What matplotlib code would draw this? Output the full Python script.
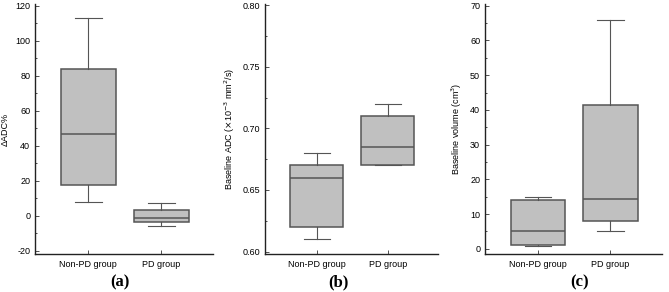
import matplotlib.pyplot as plt
from matplotlib.ticker import MultipleLocator

plt.rcParams['font.family'] = ['Liberation Sans', 'DejaVu Sans']

groups = ['Non-PD group', 'PD group']

# whisker low, Q1, median, Q3, whisker high
adc_pct = [[7.5, 17.5, 46.5, 84.0, 113.0],
           [-6.0, -3.5, -1.5, 3.0, 7.0]]
base_adc = [[0.61, 0.62, 0.66, 0.67, 0.68],
            [0.67, 0.67, 0.685, 0.71, 0.72]]
base_vol = [[0.8, 1.2, 5.0, 14.0, 15.0],
            [5.0, 8.0, 14.2, 41.5, 66.0]]

ylabels = ['ΔADC%', r'Baseline ADC ($\times$10$^{-3}$ mm$^{2}$/s)', r'Baseline volume (cm$^{3}$)']
captions = ['(a)', '(b)', '(c)']
ylims = [(-22, 121), (0.598, 0.801), (-1.5, 70.5)]
majors = [20, 0.05, 10]
yfmt = ['{:.0f}', '{:.2f}', '{:.0f}']

fig = plt.figure(figsize=(6.69, 2.92), dpi=100)
lefts = [35 / 669, 265 / 669, 485 / 669]
widths = [178 / 669, 173 / 669, 177 / 669]
cap_x = [120 / 669, 338 / 669, 580 / 669]

edge = '#555555'
for i, data in enumerate([adc_pct, base_adc, base_vol]):
    ax = fig.add_axes([lefts[i], 38 / 292, widths[i], 250 / 292])
    stats = []
    for g, v in zip(groups, data):
        stats.append(dict(label=g, whislo=v[0], q1=v[1], med=v[2], q3=v[3], whishi=v[4]))
    ax.bxp(stats, positions=[1, 2], widths=0.75, showfliers=False, patch_artist=True,
           boxprops=dict(facecolor='#c0c0c0', edgecolor=edge, linewidth=1.1),
           medianprops=dict(color=edge, linewidth=1.1),
           whiskerprops=dict(color=edge, linewidth=0.8),
           capprops=dict(color=edge, linewidth=0.8),
           capwidths=0.37)
    ax.set_xlim(0.27, 2.71)
    ax.set_ylim(*ylims[i])
    ax.yaxis.set_major_locator(MultipleLocator(majors[i]))
    ax.yaxis.set_minor_locator(MultipleLocator(majors[i] / 2))
    ax.set_yticks(ax.get_yticks())
    ax.set_yticklabels([yfmt[i].format(t) for t in ax.get_yticks()])
    ax.set_ylim(*ylims[i])
    ax.set_ylabel(ylabels[i], fontsize=6.5)
    ax.tick_params(labelsize=6.5, direction='in', length=3, width=0.6, color='#333333')
    ax.tick_params(which='minor', direction='in', length=1.5, width=0.5)
    ax.tick_params(axis='x', labelsize=6.5, pad=4)
    for s in ['top', 'right']:
        ax.spines[s].set_visible(False)
    for s in ['left', 'bottom']:
        ax.spines[s].set_linewidth(1.0)
        ax.spines[s].set_color('#222222')
    fig.text(cap_x[i], 10 / 292, captions[i], ha='center', va='center',
             fontsize=12, fontweight='bold', family='Liberation Serif')

fig.savefig('out.png', dpi=100)
